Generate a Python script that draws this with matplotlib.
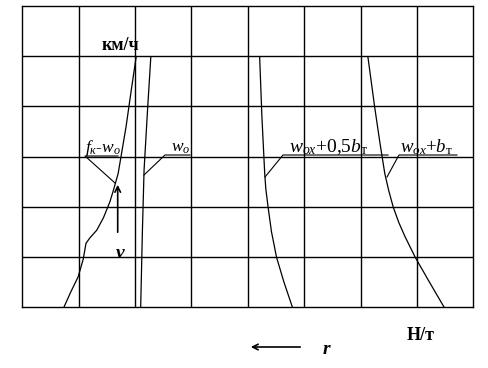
import matplotlib
matplotlib.use("Agg")
import matplotlib.pyplot as plt

plt.rcParams['font.family'] = ['Liberation Serif', 'DejaVu Serif']
plt.rcParams['mathtext.fontset'] = 'custom'
plt.rcParams['mathtext.it'] = 'Liberation Serif:italic'
plt.rcParams['mathtext.rm'] = 'Liberation Serif'

# curves, in grid cells (8 columns x 6 rows)
fk_x = [0.74, 0.86, 0.99, 1.08, 1.13, 1.20, 1.32, 1.44, 1.555, 1.63, 1.70, 1.84, 1.93, 2.02]
fk_y = [0.0, 0.3, 0.6, 0.95, 1.27, 1.38, 1.53, 1.78, 2.1, 2.38, 2.66, 3.59, 4.3, 4.99]
w0_x = [2.10, 2.13, 2.16, 2.22, 2.28]
w0_y = [0.0, 1.5, 2.73, 3.9, 4.99]
half_x = [4.79, 4.64, 4.51, 4.42, 4.36, 4.32, 4.30, 4.25, 4.21]
half_y = [0.0, 0.5, 0.99, 1.5, 1.99, 2.35, 2.66, 3.8, 4.99]
full_x = [7.48, 7.22, 6.97, 6.79, 6.68, 6.58, 6.50, 6.43, 6.34, 6.25, 6.13]
full_y = [0.0, 0.5, 0.99, 1.40, 1.68, 1.99, 2.32, 2.66, 3.3, 3.99, 4.99]

W, H = 489, 368
fig = plt.figure(figsize=(W / 100, H / 100), dpi=100)
x0, x1, y0, y1 = 22.3, 473.3, 6, 307
ax = fig.add_axes([x0 / W, 1 - y1 / H, (x1 - x0) / W, (y1 - y0) / H])
ax.set_xlim(0, 8)
ax.set_ylim(0, 6)
for i in range(1, 8):
    ax.axvline(i, color='black', lw=1.0)
for j in range(1, 6):
    ax.axhline(j, color='black', lw=1.0)
for s in ax.spines.values():
    s.set_linewidth(1.0)
ax.set_xticks([])
ax.set_yticks([])

for xs, ys in [(fk_x, fk_y), (w0_x, w0_y), (half_x, half_y), (full_x, full_y)]:
    ax.plot(xs, ys, color='black', lw=0.9)


def fp(px, py):
    return px / W, 1 - py / H


def leader(pts):
    xs = [fp(*p)[0] for p in pts]
    ys = [fp(*p)[1] for p in pts]
    fig.add_artist(plt.Line2D(xs, ys, color='black', lw=0.8))


# labels with leader lines
fig.text(*fp(85, 152), r'$f_{к}$-$w_{o}$', fontsize=12.5, va='baseline')
leader([(115, 183), (85, 156), (118, 156)])
fig.text(*fp(171, 152), r'$w_{o}$', fontsize=12.5, va='baseline')
leader([(144, 175), (165, 155), (190, 155)])
fig.text(*fp(289, 152), r'$w_{ox}$+0,5$b_{\mathrm{т}}$', fontsize=14, va='baseline')
leader([(265, 177), (283, 155), (388, 155)])
fig.text(*fp(400, 152), r'$w_{ox}$+$b_{\mathrm{т}}$', fontsize=13.5, va='baseline')
leader([(387, 177), (399, 155), (457, 155)])

fig.text(*fp(102, 50), 'км/ч', fontsize=13, fontweight='bold', va='baseline')
fig.text(*fp(407, 340), 'Н/т', fontsize=13, fontweight='bold', va='baseline')
fig.text(*fp(116, 258), 'v', fontsize=14, fontweight='bold', style='italic', va='baseline')
fig.text(*fp(323, 354), 'r', fontsize=14, fontweight='bold', style='italic', va='baseline')

ax.annotate('', xy=fp(117.7, 182), xytext=fp(117.7, 235), xycoords='figure fraction',
            textcoords='figure fraction',
            arrowprops=dict(arrowstyle='->', color='black', lw=1.2))
ax.annotate('', xy=fp(248, 347), xytext=fp(303, 347), xycoords='figure fraction',
            textcoords='figure fraction',
            arrowprops=dict(arrowstyle='->', color='black', lw=1.2))

fig.savefig('out.png', dpi=100)
